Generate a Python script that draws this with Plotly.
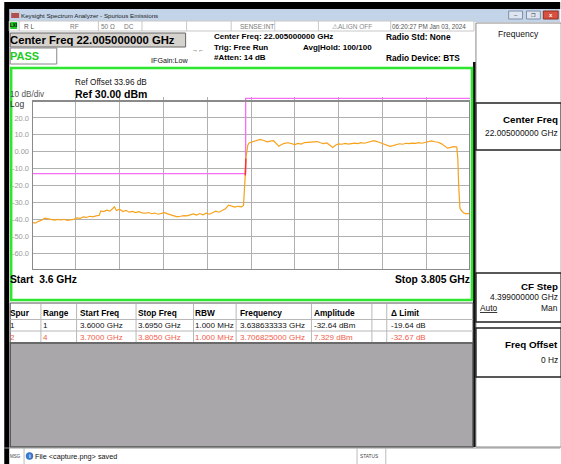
import numpy as np
import plotly.graph_objects as go

# ---------------- data ----------------
start_ghz = 3.6
stop_ghz = 3.805
ref_level = 30.0
db_per_div = 10
n_divs = 10
y_tick_values = [20, 10, 0, -10, -20, -30, -40, -50, -60]
y_tick_labels = ["20.0", "10.0", "0.00", "-10.0", "-20.0", "-30.0", "-40.0", "-50.0", "-60.0"]

trace_freq = [
    3.6000, 3.6015, 3.6030, 3.6045, 3.6060, 3.6075, 3.6090, 3.6105, 3.6120, 3.6135,
    3.6150, 3.6165, 3.6180, 3.6195, 3.6210, 3.6225, 3.6240, 3.6255, 3.6270, 3.6285,
    3.6300, 3.6315, 3.6322, 3.6335, 3.6350, 3.6365, 3.6386, 3.6395, 3.6410, 3.6425,
    3.6440, 3.6455, 3.6470, 3.6485, 3.6500, 3.6515, 3.6530, 3.6545, 3.6560, 3.6575,
    3.6590, 3.6605, 3.6620, 3.6635, 3.6650, 3.6665, 3.6680, 3.6695, 3.6710, 3.6725,
    3.6740, 3.6755, 3.6770, 3.6785, 3.6800, 3.6815, 3.6830, 3.6845, 3.6860, 3.6875,
    3.6890, 3.6905, 3.6920, 3.6935, 3.6950, 3.6965, 3.6980, 3.6990, 3.6995, 3.6998,
    3.7001, 3.7005, 3.7010, 3.7016, 3.7025, 3.7035, 3.7050, 3.7060, 3.7068, 3.7085,
    3.7100, 3.7115, 3.7130, 3.7145, 3.7155, 3.7170, 3.7185, 3.7200, 3.7215, 3.7230,
    3.7245, 3.7260, 3.7275, 3.7290, 3.7305, 3.7320, 3.7335, 3.7350, 3.7365, 3.7380,
    3.7395, 3.7408, 3.7420, 3.7435, 3.7450, 3.7465, 3.7480, 3.7495, 3.7510, 3.7525,
    3.7540, 3.7555, 3.7570, 3.7585, 3.7600, 3.7615, 3.7630, 3.7645, 3.7660, 3.7675,
    3.7690, 3.7705, 3.7720, 3.7735, 3.7750, 3.7765, 3.7780, 3.7795, 3.7810, 3.7825,
    3.7840, 3.7855, 3.7870, 3.7885, 3.7900, 3.7915, 3.7930, 3.7945, 3.7960, 3.7975,
    3.7988, 3.7993, 3.7997, 3.8003, 3.8010, 3.8020, 3.8030, 3.8040, 3.8050,
]
trace_amp = [
    -41.8, -42.3, -41.2, -40.6, -39.3, -39.8, -40.2, -40.5, -40.1, -40.4,
    -40.0, -40.6, -40.3, -40.1, -39.2, -39.5, -38.6, -38.9, -38.2, -38.6,
    -38.0, -37.6, -35.0, -35.4, -34.6, -35.2, -32.6, -34.8, -34.0, -35.4,
    -34.7, -35.8, -35.3, -36.0, -35.5, -36.2, -36.4, -36.0, -36.7, -36.3,
    -37.0, -36.5, -36.1, -36.8, -37.4, -38.1, -38.5, -38.2, -37.8, -38.0,
    -37.2, -36.8, -37.5, -36.6, -37.3, -36.4, -37.0, -36.0, -35.2, -35.8,
    -34.6, -33.8, -31.6, -32.4, -32.8, -32.3, -32.6, -31.8, -24.0, -14.0,
    -4.0, 1.5, 3.8, 5.2, 5.6, 5.9, 6.4, 6.9, 7.33, 6.6,
    5.8, 6.3, 6.5, 4.6, 3.2, 4.4, 5.1, 5.3, 4.7, 4.2,
    4.9, 4.5, 5.4, 5.6, 5.9, 6.2, 6.0, 5.3, 4.8, 5.2,
    3.6, 2.5, 3.8, 4.6, 4.4, 4.9, 4.5, 4.7, 5.1, 4.8,
    5.4, 5.0, 5.6, 6.2, 6.5, 6.0, 5.2, 4.6, 3.9, 3.2,
    3.6, 4.2, 4.7, 4.4, 5.0, 4.8, 5.1, 4.9, 5.4, 5.0,
    5.5, 6.0, 6.4, 5.9, 5.6, 4.8, 3.4, 2.1, 2.6, 3.0,
    2.8, -4.0, -20.0, -33.5, -34.8, -36.2, -36.8, -36.5, -36.9,
]
limit_freq = [3.6, 3.7, 3.7, 3.805]
limit_amp = [-13.0, -13.0, 40.0, 40.0]
limit_screen_top = 31.6  # limit above the display is drawn at the top edge

table_header = ["Spur", "Range", "Start Freq", "Stop Freq", "RBW", "Frequency", "Amplitude", "\u0394 Limit"]
table_row1 = ["1", "1", "3.6000 GHz", "3.6950 GHz", "1.000 MHz", "3.638633333 GHz", "-32.64 dBm", "-19.64 dB"]
table_row2 = ["2", "4", "3.7000 GHz", "3.8050 GHz", "1.000 MHz", "3.706825000 GHz", "7.329 dBm", "-32.67 dB"]

# ---------------- layout helpers ----------------
W, H = 561, 464
L, R, T, B = 28, 470, 97, 270
FONT = "Liberation Sans, Arial, sans-serif"


def X(px):
    return (px - L) / (R - L)


def Y(py):
    return (B - py) / (B - T)


shapes = []
annotations = []


def rect(x0, y0, x1, y1, fill=None, line=None, lw=1):
    shapes.append(dict(type="rect", xref="paper", yref="paper",
                       x0=X(x0), x1=X(x1), y0=Y(y1), y1=Y(y0),
                       fillcolor=fill if fill else "rgba(0,0,0,0)",
                       line=dict(color=line if line else "rgba(0,0,0,0)", width=lw if line else 0)))


def hline(x0, x1, y, color="#999", lw=1):
    shapes.append(dict(type="line", xref="paper", yref="paper", x0=X(x0), x1=X(x1),
                       y0=Y(y), y1=Y(y), line=dict(color=color, width=lw)))


def vline(x, y0, y1, color="#999", lw=1):
    shapes.append(dict(type="line", xref="paper", yref="paper", x0=X(x), x1=X(x),
                       y0=Y(y0), y1=Y(y1), line=dict(color=color, width=lw)))


def txt(x, y, s, size=8, color="#000", bold=False, xanchor="left"):
    shift = {"left": -3, "right": 2, "center": 0}[xanchor]
    annotations.append(dict(x=X(x), y=Y(y), xref="paper", yref="paper",
                            text=f"<b>{s}</b>" if bold else s, showarrow=False,
                            xanchor=xanchor, yanchor="middle", borderpad=0, xshift=shift,
                            font=dict(size=size, color=color, family=FONT)))


# ---------------- window chrome ----------------
rect(0, 2, W, 9, fill="#000000")
rect(0, 9, W, 22, fill="#c3d3e8")
rect(7, 11, 15, 18, fill="#b05050")
rect(7, 11, 15, 13, fill="#d0d0d0")
txt(19, 15.5, "Keysight Spectrum Analyzer - Spurious Emissions", size=6.2, color="#222")
rect(509, 11, 523, 19, fill="#dde5f0", line="#8090a8")
rect(527, 11, 541, 19, fill="#dde5f0", line="#8090a8")
rect(544, 11, 559, 19, fill="#d8503f", line="#903020")
txt(516, 15, "\u2013", size=6, color="#333", xanchor="center")
txt(534, 15, "\u2750", size=5, color="#333", xanchor="center")
txt(551.5, 15, "x", size=6, color="#fff", bold=True, xanchor="center")
rect(0, 9, 5, H, fill="#000000")

# status row
rect(5, 21, 474, 31, fill="#ffffff", line="#c8c8c8")
rect(6, 22, 13, 29, fill="#22cc22")
txt(9.5, 25.5, "LXI", size=4.5, color="#000", bold=True, xanchor="center")
for sx in [15, 95, 139, 184, 229, 273, 317, 390]:
    vline(sx, 21, 31, color="#c8c8c8")
txt(22, 26, "R L", size=6.5, color="#555")
txt(68, 26, "RF", size=6.5, color="#777")
txt(100, 26, "50 \u03a9", size=6.5, color="#777")
txt(123, 26, "DC", size=6.5, color="#777")
txt(240, 26, "SENSE:INT", size=6.5, color="#777")
txt(333, 26, "\u26a0ALIGN OFF", size=6.5, color="#888")
txt(393, 26, "06:20:27 PM Jan 03, 2024", size=6.3, color="#555")

# center freq / pass row
rect(6, 33, 183, 47, fill="#d6d3ce", line="#666666")
txt(8, 40, "Center Freq 22.005000000 GHz", size=11.3, bold=True)
rect(6, 48, 53, 64, fill="#ffffff", line="#888888")
txt(8, 56, "PASS", size=11, color="#22cc22", bold=True)
txt(150, 60, "IFGain:Low", size=7.2, color="#111")
txt(196, 50, "\u2192\u2190", size=6, color="#111", xanchor="center")
txt(214, 37, "Center Freq: 22.005000000 GHz", size=8, bold=True)
txt(214, 47.5, "Trig: Free Run", size=8, bold=True)
txt(214, 58, "#Atten: 14 dB", size=8, bold=True)
txt(303, 47.5, "Avg|Hold: 100/100", size=8, bold=True)
txt(387, 37, "Radio Std: None", size=8.3, bold=True)
txt(387, 58, "Radio Device: BTS", size=8.3, bold=True)

# separator black strip between screen and soft keys
rect(473, 62, 476, 447, fill="#111111")

# plot region annotations
txt(73, 83, "Ref Offset 33.96 dB", size=8.2, color="#111")
txt(73, 94, "Ref 30.00 dBm", size=10.5, bold=True)
txt(8, 95, "10 dB/div", size=8.2, color="#555")
txt(8, 103.5, "Log", size=8.5, color="#333")
txt(8, 279, "Start&nbsp;&nbsp;3.6 GHz", size=10.3, bold=True)
txt(469, 279, "Stop 3.805 GHz", size=10.3, bold=True, xanchor="right")

# green frame
rect(7, 68, 472, 300, line="#2ee62e", lw=2.5)

# table
rect(6, 303, 473, 343, fill="#ffffff", line="#555555")
col_x = [8, 41, 78, 137, 195, 240, 315, 392]
col_sep = [37, 73, 133, 191, 234, 310, 371, 386]
for cx in col_sep:
    vline(cx, 304, 343, color="#b8b8b8")
hline(6, 473, 319.5, color="#b8b8b8")
hline(6, 473, 331, color="#b8b8b8")
for cx, s in zip(col_x, table_header):
    txt(cx, 313, s, size=8.3, bold=True)
for cx, s in zip(col_x, table_row1):
    txt(cx, 325, s, size=8, color="#111")
for cx, s in zip(col_x, table_row2):
    txt(cx, 337, s, size=8, color="#f2604c")
rect(6, 343, 473, 447, fill="#a9a7aa", line="#555555", lw=1.5)

# bottom status bar
hline(0, W, 448, color="#999")
txt(8, 456, "MSG", size=4.5, color="#444")
vline(20, 448, 464, color="#bbb")
shapes.append(dict(type="circle", xref="paper", yref="paper", x0=X(22), x1=X(29),
                   y0=Y(459.5), y1=Y(452.5), fillcolor="#3a7bd5", line=dict(color="#2050a0", width=0.5)))
txt(25.5, 456, "<b>i</b>", size=5.5, color="#ffffff", xanchor="center")
txt(33, 456.5, "File &lt;capture.png&gt; saved", size=7.3, color="#111")
vline(356, 448, 464, color="#bbb")
txt(361, 456.5, "STATUS", size=4.8, color="#444")
vline(385, 448, 464, color="#bbb")

# soft keys panel
rect(476, 23, 562, 447, fill="#ffffff", line="#888888")
txt(519, 34, "Frequency", size=8.5, color="#111", xanchor="center")
rect(476, 103, 562, 150, line="#222222", lw=1.3)
txt(558, 119, "Center Freq", size=9.8, bold=True, xanchor="right")
txt(558, 133, "22.005000000 GHz", size=8.4, color="#111", xanchor="right")
rect(476, 273, 562, 322, line="#222222", lw=1.3)
txt(558, 286, "CF Step", size=9.8, bold=True, xanchor="right")
txt(558, 297, "4.399000000 GHz", size=8.4, color="#111", xanchor="right")
txt(482, 308, "<u>Auto</u>", size=8.4, color="#111")
txt(558, 308, "Man", size=8.4, color="#111", xanchor="right")
rect(476, 328, 562, 377, line="#222222", lw=1.3)
txt(558, 344, "Freq Offset", size=9.8, bold=True, xanchor="right")
txt(558, 360, "0 Hz", size=8.4, color="#111", xanchor="right")

# graticule frame (data coords)
y_bottom = ref_level - n_divs * db_per_div
shapes.append(dict(type="rect", xref="x", yref="y", x0=start_ghz, x1=stop_ghz,
                   y0=y_bottom, y1=ref_level, line=dict(color="#8a8a8a", width=2),
                   fillcolor="rgba(0,0,0,0)", layer="above"))

# ---------------- traces ----------------
f = np.array(trace_freq)
a = np.array(trace_amp)
lim_disp = np.minimum(np.array(limit_amp), limit_screen_top)
fig = go.Figure()
fig.add_trace(go.Scatter(x=limit_freq, y=lim_disp, mode="lines",
                         line=dict(color="#f56ef5", width=1.3), hoverinfo="skip"))
fig.add_trace(go.Scatter(x=f, y=a, mode="lines",
                         line=dict(color="#f7a21b", width=1.2), hoverinfo="skip"))
over = (f >= 3.6998) & (f <= 3.7001)
fig.add_trace(go.Scatter(x=f[over], y=a[over], mode="lines",
                         line=dict(color="#ff3030", width=1.4), hoverinfo="skip"))

span = stop_ghz - start_ghz
x_grid = [start_ghz + k * span / n_divs for k in range(1, n_divs)]
px_per_db = 16.9 / db_per_div
y_top = y_bottom + (B - T) / px_per_db

fig.update_layout(
    width=W, height=H,
    margin=dict(l=L, r=W - R, t=T, b=H - B, pad=0),
    paper_bgcolor="#ffffff", plot_bgcolor="#ffffff",
    showlegend=False,
    font=dict(family=FONT),
    shapes=shapes, annotations=annotations,
    xaxis=dict(range=[start_ghz, stop_ghz], tickvals=x_grid, showticklabels=False,
               showgrid=True, gridcolor="#b0b0b0", gridwidth=1, zeroline=False,
               showline=False, ticks="", fixedrange=True),
    yaxis=dict(range=[y_bottom, y_top], tickvals=y_tick_values, ticktext=y_tick_labels,
               showgrid=True, gridcolor="#b0b0b0", gridwidth=1, zeroline=False,
               showline=False, ticks="", ticklabelstandoff=2,
               tickfont=dict(size=7.5, color="#9a9a9a", family=FONT), fixedrange=True),
)

fig.write_html(
    "out.html",
    config={"displayModeBar": False},
    post_script="document.body.style.margin='0';document.body.style.padding='0';document.body.style.overflow='hidden';",
)
